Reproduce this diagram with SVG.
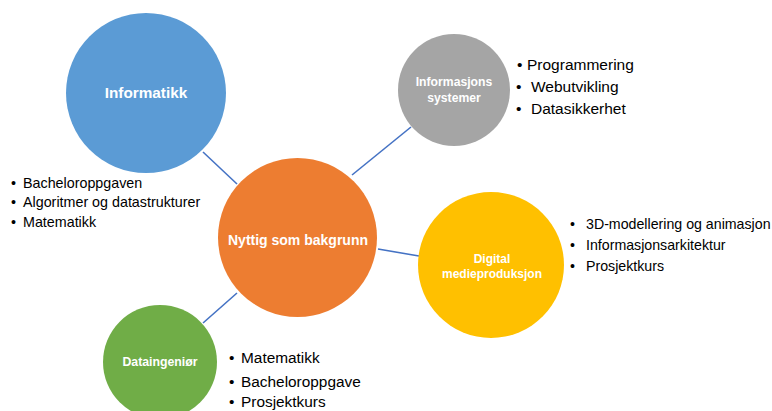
<svg xmlns="http://www.w3.org/2000/svg" width="772" height="411" viewBox="0 0 772 411">
<style>
.lbl{font-family:"Liberation Sans",Arial,sans-serif;font-weight:bold;fill:#ffffff;text-anchor:middle}
.li{font-family:"Liberation Sans",Arial,sans-serif;fill:#000000}
.conn line{stroke:#4472C4;stroke-width:1.6}
</style>
<rect width="772" height="411" fill="#ffffff"/>
<g class="conn" id="connectors">
<line x1="203" y1="152" x2="237" y2="184"/>
<line x1="352" y1="175" x2="411" y2="127"/>
<line x1="378" y1="249" x2="419" y2="256"/>
<line x1="237" y1="293" x2="203" y2="323"/>
</g>
<g id="informatikk">
<circle cx="146" cy="93" r="80" fill="#5B9BD5"/>
<text class="lbl" x="146" y="98" font-size="15.3">Informatikk</text>
<g class="li" font-size="14.3">
<text y="188"><tspan x="11">•</tspan><tspan x="23">Bacheloroppgaven</tspan></text>
<text y="207"><tspan x="11">•</tspan><tspan x="23">Algoritmer og datastrukturer</tspan></text>
<text y="227"><tspan x="11">•</tspan><tspan x="23">Matematikk</tspan></text>
</g>
</g>
<g id="center">
<circle cx="297.5" cy="237.5" r="79.5" fill="#ED7D31"/>
<text class="lbl" x="298" y="245" font-size="14">Nyttig som bakgrunn</text>
</g>
<g id="informasjonssystemer">
<circle cx="454" cy="90" r="56" fill="#A5A5A5"/>
<text class="lbl" x="454" y="86" font-size="12.2">Informasjons</text>
<text class="lbl" x="454" y="102" font-size="12.2">systemer</text>
<g class="li" font-size="15.5">
<text y="70"><tspan x="517">•</tspan><tspan x="527">Programmering</tspan></text>
<text y="92"><tspan x="516">•</tspan><tspan x="531">Webutvikling</tspan></text>
<text y="114"><tspan x="516">•</tspan><tspan x="531">Datasikkerhet</tspan></text>
</g>
</g>
<g id="digital">
<circle cx="491" cy="265" r="73" fill="#FFC000"/>
<text class="lbl" x="492" y="263" font-size="12">Digital</text>
<text class="lbl" x="492" y="278" font-size="12">medieproduksjon</text>
<g class="li" font-size="14.2">
<text y="229"><tspan x="570">•</tspan><tspan x="586">3D-modellering og animasjon</tspan></text>
<text y="250"><tspan x="570">•</tspan><tspan x="586">Informasjonsarkitektur</tspan></text>
<text y="271"><tspan x="570">•</tspan><tspan x="586">Prosjektkurs</tspan></text>
</g>
</g>
<g id="dataingenior">
<circle cx="160" cy="362" r="57" fill="#70AD47"/>
<text class="lbl" x="160" y="366" font-size="12.3">Dataingeniør</text>
<g class="li" font-size="15.4">
<text y="363"><tspan x="229">•</tspan><tspan x="241">Matematikk</tspan></text>
<text y="387"><tspan x="229">•</tspan><tspan x="241">Bacheloroppgave</tspan></text>
<text y="407"><tspan x="229">•</tspan><tspan x="241">Prosjektkurs</tspan></text>
</g>
</g>
</svg>
